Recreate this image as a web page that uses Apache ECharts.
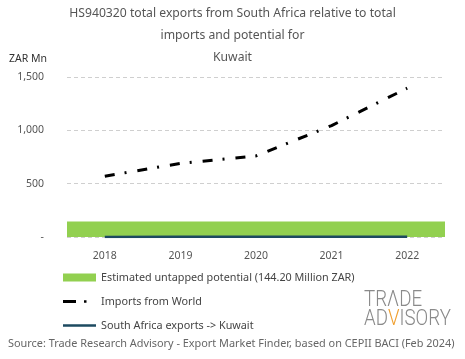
<!DOCTYPE html>
<html><head><meta charset="utf-8">
<script src="https://cdn.jsdelivr.net/npm/echarts@6/dist/echarts.min.js"></script>
<style>html,body{margin:0;padding:0;background:#fff}#c{width:465px;height:359px}</style>
</head><body><div id="c"></div>
<script>
const years = ['2018','2019','2020','2021','2022'];
const importsWorld = [570, 690, 760, 1045, 1395];
const exportsKuwait = [0.5, 1.5, 3, 3.5, 3];
const untappedPotential = [144.2];
const yTicks = [0, 500, 1000, 1500];

const F = 'Noto Sans';
const chart = echarts.init(document.getElementById('c'));
chart.setOption({
  animation: false,
  textStyle: {fontFamily: F},
  title: {
    text: 'HS940320 total exports from South Africa relative to total\nimports and potential for\nKuwait',
    left: 'center', top: -2,
    textStyle: {fontFamily: F, fontSize: 12.2, fontWeight: 'normal', color: '#555', lineHeight: 22}
  },
  grid: {left: 67, right: 20, top: 77, bottom: 122},
  legend: {
    orient: 'vertical', left: 58, top: 267, itemGap: 13, itemWidth: 33, itemHeight: 8,
    textStyle: {fontFamily: F, fontSize: 10.8, color: '#444'},
    data: [
      {name: 'Estimated untapped potential (144.20 Million ZAR)', icon: 'rect'},
      {name: 'Imports from World', icon: 'path://M0,0h13v3.2h-13z M21,0.4h2.5v2.5h-2.5z M32.9,1.5h0.1v0.1h-0.1z', itemStyle: {color: '#000'}},
      {name: 'South Africa exports -> Kuwait', icon: 'path://M0,0h33v2.6h-33z', itemStyle: {color: '#1d4a60'}}
    ]
  },
  xAxis: [{
    type: 'category', data: years, boundaryGap: true,
    axisLine: {show: false}, axisTick: {show: false},
    axisLabel: {color: '#555', fontSize: 10.5, margin: 14, fontFamily: F}
  }, {
    type: 'category', data: ['potential'], show: false
  }],
  yAxis: {
    type: 'value', min: yTicks[0], max: yTicks[yTicks.length - 1], interval: 500,
    name: 'ZAR Mn', nameLocation: 'end', nameGap: 12,
    nameTextStyle: {color: '#333', fontSize: 10.5, align: 'right', padding: [0, 20, 0, 0], fontFamily: F},
    axisLabel: {color: '#555', fontSize: 10.5, margin: 23, fontFamily: F,
      formatter: v => v === 0 ? '-' : v.toLocaleString('en-US')},
    splitLine: {lineStyle: {type: [4, 3], color: '#cfcfcf'}},
    axisLine: {show: false}, axisTick: {show: false}
  },
  series: [
    {
      name: 'Estimated untapped potential (144.20 Million ZAR)', type: 'bar', xAxisIndex: 1,
      data: untappedPotential, barWidth: '100%',
      itemStyle: {color: '#92d050'}, z: 1
    },
    {
      name: 'Imports from World', type: 'line', data: importsWorld,
      symbol: 'none', z: 3,
      lineStyle: {color: '#000', width: 3, type: [10, 10, 2, 11]},
      itemStyle: {color: '#000'}
    },
    {
      name: 'South Africa exports -> Kuwait', type: 'line', data: exportsKuwait,
      symbol: 'none', z: 4,
      lineStyle: {color: '#1d4a60', width: 2.5},
      itemStyle: {color: '#1d4a60'}
    }
  ],
  graphic: [
    {type: 'text', left: 8, top: 338, style: {
      text: 'Source: Trade Research Advisory - Export Market Finder, based on CEPII BACI (Feb 2024)',
      font: '10.9px "Noto Sans"', fill: '#666'}},
    {type: 'text', x: 364, y: 289, scaleX: 0.85, style: {
      text: 'TRΛDE', font: '300 22px Roboto', fill: '#8a8a8a'}},
    {type: 'text', x: 364, y: 308, scaleX: 0.85, style: {
      text: '{a|AD}{v|V}{a|ISORY}', rich: {
        a: {font: '300 22px Roboto', fill: '#8a8a8a', color: '#8a8a8a'},
        v: {font: '300 22px Roboto', fill: '#f0a030', color: '#f0a030'}
      }}}
  ]
});
</script></body></html>
